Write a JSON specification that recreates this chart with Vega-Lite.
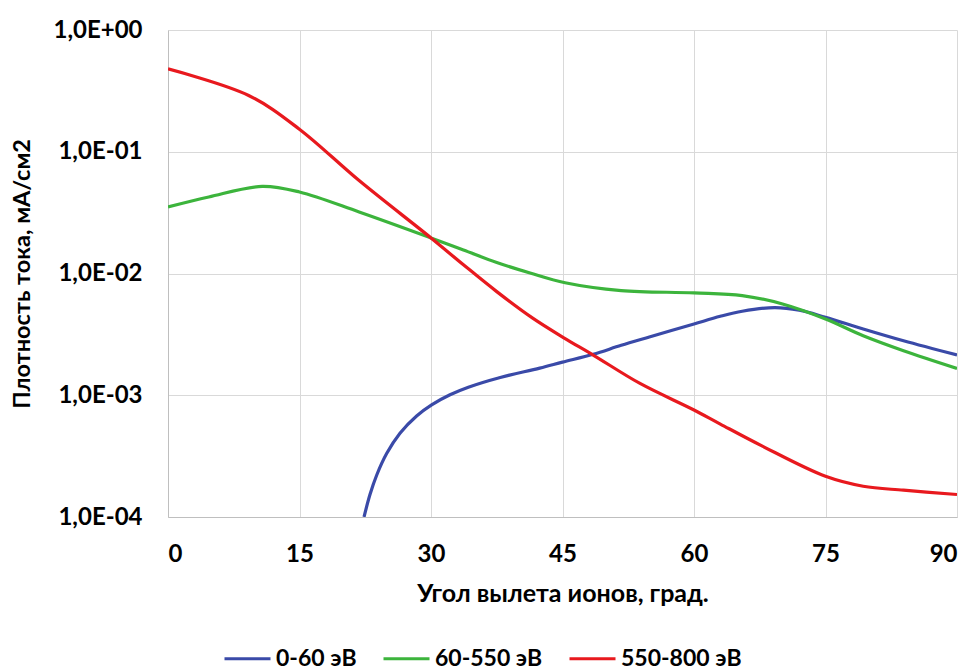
{
  "$schema": "https://vega.github.io/schema/vega-lite/v6.json",
  "width": 789,
  "height": 487,
  "autosize": {"type": "none"},
  "padding": {"left": 168, "top": 30, "right": 15, "bottom": 154},
  "background": "white",
  "config": {
    "font": "Lato",
    "view": {"stroke": null},
    "axis": {"labelFont": "Lato", "titleFont": "Lato", "labelFontWeight": "bold", "titleFontWeight": "bold", "labelColor": "#000", "titleColor": "#000", "gridColor": "#d9d9d9", "domainColor": "#bfbfbf", "ticks": false}
  },
  "data": {"values": [
    {"x": 22.36, "y": 0.0001, "s": "0-60 эВ"},
    {"x": 23.04, "y": 0.0001528, "s": "0-60 эВ"},
    {"x": 23.8, "y": 0.0002203, "s": "0-60 эВ"},
    {"x": 24.94, "y": 0.0003319, "s": "0-60 эВ"},
    {"x": 26.46, "y": 0.0004875, "s": "0-60 эВ"},
    {"x": 28.36, "y": 0.0006761, "s": "0-60 эВ"},
    {"x": 30.07, "y": 0.0008337, "s": "0-60 эВ"},
    {"x": 32.17, "y": 0.001009, "s": "0-60 эВ"},
    {"x": 34.26, "y": 0.001164, "s": "0-60 эВ"},
    {"x": 37.9, "y": 0.0014, "s": "0-60 эВ"},
    {"x": 42.4, "y": 0.00167, "s": "0-60 эВ"},
    {"x": 45, "y": 0.00187, "s": "0-60 эВ"},
    {"x": 48.5, "y": 0.00217, "s": "0-60 эВ"},
    {"x": 51.7, "y": 0.00257, "s": "0-60 эВ"},
    {"x": 55, "y": 0.00302, "s": "0-60 эВ"},
    {"x": 60, "y": 0.00385, "s": "0-60 эВ"},
    {"x": 63, "y": 0.00445, "s": "0-60 эВ"},
    {"x": 65.5, "y": 0.0049, "s": "0-60 эВ"},
    {"x": 69.2, "y": 0.00525, "s": "0-60 эВ"},
    {"x": 72, "y": 0.005, "s": "0-60 эВ"},
    {"x": 75, "y": 0.00436, "s": "0-60 эВ"},
    {"x": 79.3, "y": 0.0035, "s": "0-60 эВ"},
    {"x": 83.9, "y": 0.0028, "s": "0-60 эВ"},
    {"x": 90, "y": 0.00214, "s": "0-60 эВ"},
    {"x": 0, "y": 0.0352, "s": "60-550 эВ"},
    {"x": 4.65, "y": 0.0425, "s": "60-550 эВ"},
    {"x": 10.75, "y": 0.052, "s": "60-550 эВ"},
    {"x": 15, "y": 0.0467, "s": "60-550 эВ"},
    {"x": 21.8, "y": 0.032, "s": "60-550 эВ"},
    {"x": 30, "y": 0.0196, "s": "60-550 эВ"},
    {"x": 33.7, "y": 0.0156, "s": "60-550 эВ"},
    {"x": 37.5, "y": 0.0123, "s": "60-550 эВ"},
    {"x": 41.3, "y": 0.0101, "s": "60-550 эВ"},
    {"x": 45.3, "y": 0.0084, "s": "60-550 эВ"},
    {"x": 51.7, "y": 0.00724, "s": "60-550 эВ"},
    {"x": 60, "y": 0.00693, "s": "60-550 эВ"},
    {"x": 65.5, "y": 0.00659, "s": "60-550 эВ"},
    {"x": 70.1, "y": 0.00562, "s": "60-550 эВ"},
    {"x": 75, "y": 0.00423, "s": "60-550 эВ"},
    {"x": 79.3, "y": 0.00308, "s": "60-550 эВ"},
    {"x": 83.9, "y": 0.00232, "s": "60-550 эВ"},
    {"x": 90, "y": 0.00166, "s": "60-550 эВ"},
    {"x": 0, "y": 0.479, "s": "550-800 эВ"},
    {"x": 9.2, "y": 0.29, "s": "550-800 эВ"},
    {"x": 14.95, "y": 0.154, "s": "550-800 эВ"},
    {"x": 21.8, "y": 0.058, "s": "550-800 эВ"},
    {"x": 30, "y": 0.0196, "s": "550-800 эВ"},
    {"x": 33.7, "y": 0.0118, "s": "550-800 эВ"},
    {"x": 37.5, "y": 0.0071, "s": "550-800 эВ"},
    {"x": 41.6, "y": 0.0043, "s": "550-800 эВ"},
    {"x": 45.1, "y": 0.00298, "s": "550-800 эВ"},
    {"x": 48.5, "y": 0.00214, "s": "550-800 эВ"},
    {"x": 53.84, "y": 0.00125, "s": "550-800 эВ"},
    {"x": 60, "y": 0.000757, "s": "550-800 эВ"},
    {"x": 63, "y": 0.00058, "s": "550-800 эВ"},
    {"x": 67.8, "y": 0.000382, "s": "550-800 эВ"},
    {"x": 75, "y": 0.000216, "s": "550-800 эВ"},
    {"x": 79.3, "y": 0.000179, "s": "550-800 эВ"},
    {"x": 83.9, "y": 0.000166, "s": "550-800 эВ"},
    {"x": 90, "y": 0.000153, "s": "550-800 эВ"}
  ]},
  "mark": {"type": "line", "interpolate": "catmull-rom", "strokeWidth": 3.2, "clip": true},
  "encoding": {
    "x": {
      "field": "x", "type": "quantitative",
      "scale": {"domain": [0, 90], "nice": false, "zero": false},
      "axis": {"values": [0, 15, 30, 45, 60, 75, 90], "labelFontSize": 24, "labelPadding": 25, "title": "Угол вылета ионов, град.", "titleFontSize": 25, "titlePadding": 15, "grid": true}
    },
    "y": {
      "field": "y", "type": "quantitative",
      "scale": {"type": "log", "domain": [0.0001, 1], "nice": false},
      "axis": {"values": [0.0001, 0.001, 0.01, 0.1, 1], "labelExpr": "datum.value >= 1 ? '1,0E+00' : '1,0E-0' + round(-log(datum.value)/LN10)", "labelFontSize": 24, "labelPadding": 26, "title": "Плотность тока, мА/см2", "titleFontSize": 23.5, "titlePadding": 18, "grid": true}
    },
    "color": {
      "field": "s", "type": "nominal",
      "sort": ["0-60 эВ", "60-550 эВ", "550-800 эВ"],
      "scale": {"domain": ["0-60 эВ", "60-550 эВ", "550-800 эВ"], "range": ["#3A4AA8", "#3CB43C", "#E8191E"]},
      "legend": {"orient": "none", "legendX": 55, "legendY": 604, "direction": "horizontal", "title": null, "symbolType": "stroke", "symbolSize": 2116, "symbolStrokeWidth": 3, "labelFontSize": 23, "labelFont": "Lato", "labelFontWeight": "bold", "labelColor": "#000", "columnPadding": 20, "symbolOffset": 0, "labelOffset": 4}
    }
  }
}
